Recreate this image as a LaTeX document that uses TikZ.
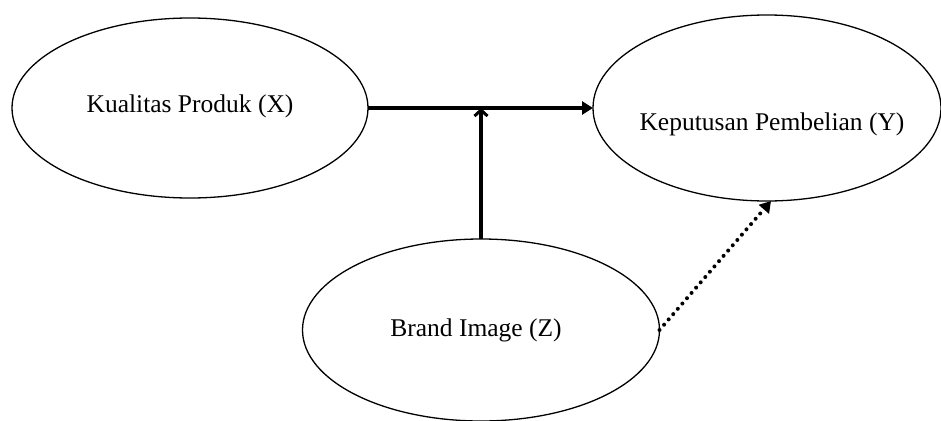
\documentclass[tikz,border=0pt]{standalone}
\usepackage{fontspec}
\setmainfont{Liberation Serif}
\usetikzlibrary{shapes.geometric,arrows.meta}
\begin{document}
\begin{tikzpicture}[x=1pt,y=-1pt,
  varbox/.style={ellipse,draw,line width=1.3pt,inner sep=0pt,outer sep=0pt},
  lbl/.style={font=\fontsize{25.5}{30}\selectfont,inner sep=0pt},
  mainarrow/.style={line width=3.2pt,-{Triangle[length=11pt,width=13pt]}},
  modarrow/.style={line width=3.2pt,-{Straight Barb[length=6pt,width=13pt,line width=3pt]}},
  dotarrow/.style={line width=4pt,line cap=round,dash pattern=on 0pt off 7pt,-{Triangle[length=11pt,width=13pt,line cap=butt]}}]
\useasboundingbox (0,0) rectangle (941,420);
\node[varbox,minimum width=356pt,minimum height=180pt] (X) at (190,108) {};
\node[varbox,minimum width=348pt,minimum height=186pt] (Y) at (767,108) {};
\node[varbox,minimum width=357pt,minimum height=182pt] (Z) at (481,330) {};
\node[lbl] (tx) at (190,106) {Kualitas Produk (X)};
\node[lbl] (ty) at (772,124) {Keputusan Pembelian (Y)};
\node[lbl] (tz) at (476,330) {Brand Image (Z)};
\draw[mainarrow] (X.east) -- (Y.west);
\coordinate (M) at (Z.north |- X.east);
\draw[modarrow] (Z.north) -- (M);
\draw[dotarrow] (Z.east) -- ([xshift=4pt]Y.south);
\end{tikzpicture}
\end{document}
